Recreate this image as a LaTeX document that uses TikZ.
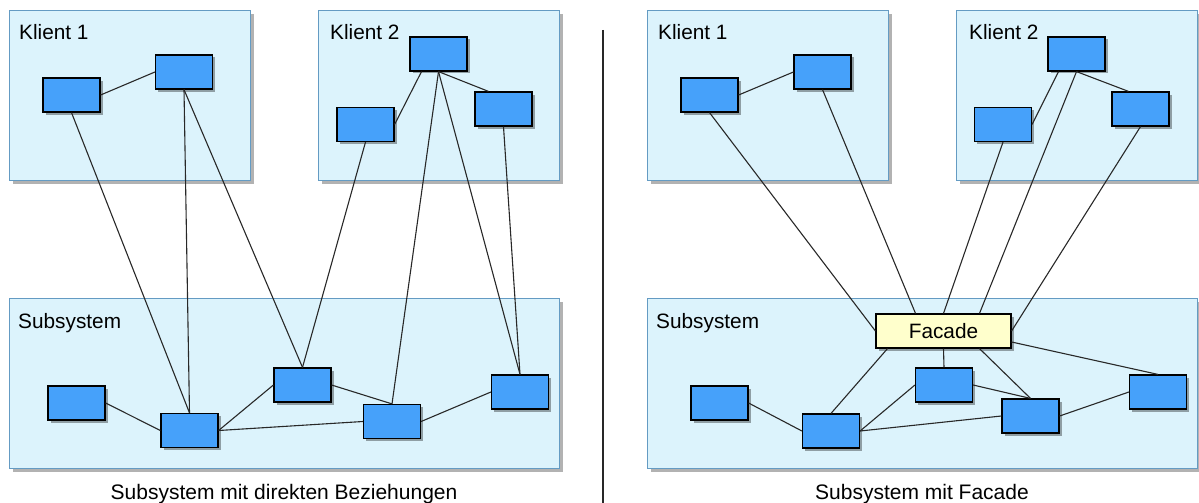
\documentclass[tikz,border=0pt]{standalone}
\usepackage{fontspec}
\setmainfont{Liberation Sans}
\usetikzlibrary{shadows}
\definecolor{contfill}{RGB}{220,243,252}
\definecolor{contdraw}{RGB}{100,155,195}
\definecolor{nodefill}{RGB}{70,161,250}
\definecolor{facfill}{RGB}{255,255,204}
\definecolor{linecol}{RGB}{40,40,40}
\tikzset{
  container/.style={draw=contdraw, fill=contfill, line width=1.2pt, inner sep=0pt,
    anchor=north west,
    drop shadow={shadow xshift=3pt, shadow yshift=-3pt, opacity=0.3, fill=black}},
  klient/.style={container, minimum width=241pt, minimum height=170pt},
  subsys/.style={container, minimum width=550pt, minimum height=170pt},
  comp/.style={draw=black, fill=nodefill, line width=1.2pt, inner sep=0pt,
    minimum width=57pt, minimum height=34pt,
    drop shadow={shadow xshift=2.5pt, shadow yshift=-2.5pt, opacity=0.35, fill=black}},
  facade/.style={comp, fill=facfill, minimum width=135pt, font=\fontsize{20.8}{24}\selectfont},
  lbl/.style={anchor=base west, inner sep=0pt, font=\fontsize{20.8}{24}\selectfont},
  captext/.style={anchor=base, inner sep=0pt, font=\fontsize{21}{25}\selectfont},
  conn/.style={draw=linecol, line width=1.1pt},
}
\begin{document}
\begin{tikzpicture}[x=1pt, y=-1pt]
\useasboundingbox (0,0) rectangle (1199,503);

% ---------- left panel ----------
\node[klient] (lk1) at (9,10) {};
\node[klient] (lk2) at (318,10) {};
\node[subsys] (lss) at (9,298) {};
\node[lbl] (lk1l) at (19,40) {Klient 1};
\node[lbl] (lk2l) at (330,40) {Klient 2};
\node[lbl] (lssl) at (18,328) {Subsystem};

\node[comp] (A) at (71.5,95) {};
\node[comp] (B) at (184,72) {};
\node[comp] (C) at (438.5,54) {};
\node[comp] (D) at (365.5,124.5) {};
\node[comp] (E) at (503.5,109) {};
\node[comp] (S1) at (76.5,403) {};
\node[comp] (S2) at (189.5,430.5) {};
\node[comp] (S3) at (302.5,385) {};
\node[comp] (S4) at (392,421.5) {};
\node[comp] (S5) at (520,392) {};

\draw[conn] (A.east) -- (B.west);
\draw[conn] (A.south) -- (S2.north);
\draw[conn] (B.south) -- (S2.north);
\draw[conn] (B.south) -- (S3.north);
\draw[conn] (D.south) -- (S3.north);
\draw[conn] ([xshift=-17pt]C.south) -- (D.east);
\draw[conn] (C.south) -- (S4.north);
\draw[conn] (C.south) -- (S5.north);
\draw[conn] (C.south) -- ([xshift=-15pt]E.north);
\draw[conn] (E.south) -- (S5.north);
\draw[conn] (S1.east) -- (S2.west);
\draw[conn] (S2.east) -- (S3.west);
\draw[conn] (S2.east) -- (S4.west);
\draw[conn] (S3.east) -- (S4.north);
\draw[conn] (S4.east) -- (S5.west);

\node[captext] (lcap) at (284,499) {Subsystem mit direkten Beziehungen};

% ---------- divider ----------
\coordinate (dtop) at (603,30);
\coordinate (dbot) at (603,503);
\draw[draw=linecol, line width=1.1pt] (dtop) -- (dbot);

% ---------- right panel ----------
\node[klient] (rk1) at (647,10) {};
\node[klient] (rk2) at (956,10) {};
\node[subsys] (rss) at (647,298) {};
\node[lbl] (rk1l) at (658,40) {Klient 1};
\node[lbl] (rk2l) at (969,40) {Klient 2};
\node[lbl] (rssl) at (656,328) {Subsystem};

\node[comp] (RA) at (709.5,95) {};
\node[comp] (RB) at (822.5,72) {};
\node[comp] (RC) at (1076.5,54) {};
\node[comp] (RD) at (1003,124.5) {};
\node[comp] (RE) at (1140.5,109) {};
\node[facade] (F) at (943.5,331) {Facade};
\node[comp] (R1) at (719.5,403) {};
\node[comp] (R2) at (831,431) {};
\node[comp] (R3) at (944,385) {};
\node[comp] (R4) at (1030.5,416) {};
\node[comp] (R5) at (1158,392) {};

\draw[conn] (RA.east) -- (RB.west);
\draw[conn] (RA.south) -- (F.west);
\draw[conn] (RB.south) -- ([xshift=-28pt]F.north);
\draw[conn] (RD.south) -- (F.north);
\draw[conn] ([xshift=-18pt]RC.south) -- (RD.east);
\draw[conn] (RC.south) -- ([xshift=36pt]F.north);
\draw[conn] (RC.south) -- ([xshift=-12pt]RE.north);
\draw[conn] (RE.south) -- (F.east);
\draw[conn] ([xshift=-56pt]F.south) -- (R2.north);
\draw[conn] (F.south) -- (R3.north);
\draw[conn] ([xshift=36pt]F.south) -- (R4.north);
\draw[conn] ([yshift=-11pt]F.east) -- (R5.north);
\draw[conn] (R1.east) -- (R2.west);
\draw[conn] (R2.east) -- (R3.west);
\draw[conn] (R2.east) -- (R4.west);
\draw[conn] (R3.east) -- (R4.north);
\draw[conn] (R4.east) -- (R5.west);

\node[captext] (rcap) at (922,499) {Subsystem mit Facade};
\end{tikzpicture}
\end{document}
